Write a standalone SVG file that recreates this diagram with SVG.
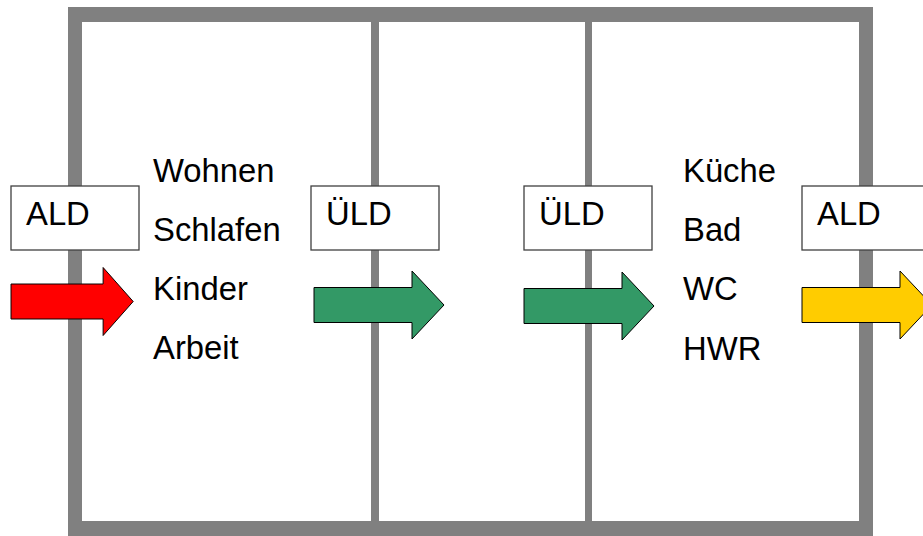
<svg xmlns="http://www.w3.org/2000/svg" width="923" height="536" viewBox="0 0 923 536">
  <style>
    .wall { fill: #808080; }
    .room { fill: #ffffff; }
    .box { fill: #ffffff; stroke: #404040; stroke-width: 1.3; }
    .lbl { font-family: "Liberation Sans", Arial, sans-serif; font-size: 32.8px; fill: #000000; }
    .arrow { stroke: #000000; stroke-width: 1; stroke-linejoin: miter; }
    .red { fill: #ff0000; }
    .green { fill: #339966; }
    .yellow { fill: #ffcc00; }
  </style>
  <defs>
    <!-- block arrow: shaft 0..98, head to 130; height centred on 0 -->
    <path id="blockArrow" d="M0,-17.5 H98 V-34 L130,0 L98,34 V17.5 H0 Z"/>
  </defs>
  <rect width="923" height="536" fill="#ffffff"/>

  <!-- floor plan: outer walls and two partition walls -->
  <g id="plan">
    <rect class="wall" x="68" y="7" width="805" height="529"/>
    <rect class="room" x="82" y="22" width="289" height="499"/>
    <rect class="room" x="379" y="22" width="206" height="499"/>
    <rect class="room" x="592" y="22" width="267" height="499"/>
  </g>

  <!-- room labels -->
  <g id="rooms-left">
    <text class="lbl" x="153" y="181.5">Wohnen</text>
    <text class="lbl" x="153" y="240.5">Schlafen</text>
    <text class="lbl" x="153" y="299.5">Kinder</text>
    <text class="lbl" x="153" y="358.5">Arbeit</text>
  </g>
  <g id="rooms-right">
    <text class="lbl" x="683" y="181.5">Küche</text>
    <text class="lbl" x="683" y="241">Bad</text>
    <text class="lbl" x="683" y="300">WC</text>
    <text class="lbl" x="683" y="359.5">HWR</text>
  </g>

  <!-- door labels -->
  <g id="door-ald-in">
    <rect class="box" x="11" y="186" width="128" height="64"/>
    <text class="lbl" x="26" y="225">ALD</text>
  </g>
  <g id="door-uld-1">
    <rect class="box" x="311" y="186" width="128" height="64"/>
    <text class="lbl" x="326" y="225">ÜLD</text>
  </g>
  <g id="door-uld-2">
    <rect class="box" x="524" y="186" width="128" height="64"/>
    <text class="lbl" x="539" y="225">ÜLD</text>
  </g>
  <g id="door-ald-out">
    <rect class="box" x="802" y="186" width="140" height="64"/>
    <text class="lbl" x="817" y="225">ALD</text>
  </g>

  <!-- air flow arrows -->
  <g id="connectors">
    <use href="#blockArrow" class="arrow red" transform="translate(11,301.5) scale(0.94,1)"/>
    <use href="#blockArrow" class="arrow green" transform="translate(314,305)"/>
    <use href="#blockArrow" class="arrow green" transform="translate(524,306)"/>
    <use href="#blockArrow" class="arrow yellow" transform="translate(802,305)"/>
  </g>
</svg>
